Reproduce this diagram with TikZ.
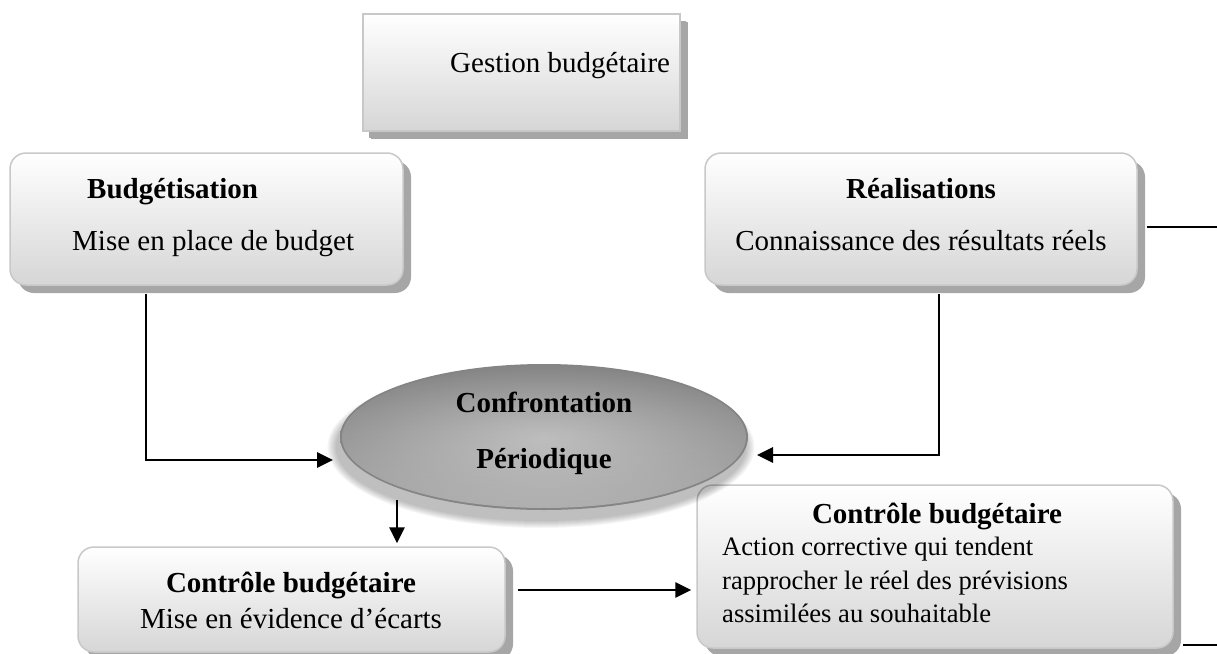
\documentclass[tikz,border=0pt]{standalone}
\usepackage{fontspec}
\setmainfont{Liberation Serif}
\usetikzlibrary{arrows.meta,shapes.geometric,shadows,fadings}

\definecolor{boxline}{HTML}{C8C8C8}
\definecolor{boxshadow}{HTML}{A6A6A6}
\definecolor{boxbottom}{HTML}{D6D6D6}
\definecolor{ovalin}{HTML}{B0B0B0}
\definecolor{ovalout}{HTML}{848484}

\tikzset{
  panel/.style={draw=boxline, line width=1.5pt, top color=white, bottom color=boxbottom,
    inner sep=0pt, drop shadow={shadow xshift=8pt, shadow yshift=-8pt, fill=boxshadow, opacity=1}},
  flatpanel/.style={panel, rounded corners=0pt,
    drop shadow={shadow xshift=6pt, shadow yshift=-7pt, fill=boxshadow, opacity=1}},
  roundpanel/.style={panel, rounded corners=16pt},
  oval/.style={ellipse, inner sep=0pt, inner color=ovalin, outer color=ovalout},
  big/.style={font=\fontsize{29}{34}\selectfont, inner sep=0pt},
  bigb/.style={font=\fontsize{29}{34}\selectfont\bfseries, inner sep=0pt},
  small/.style={font=\fontsize{26.6}{31}\selectfont, inner sep=0pt},
  link/.style={line width=2.8pt, -{Triangle[length=16pt,width=15pt]}},
  stub/.style={line width=1.5pt}
}

\begin{document}
\begin{tikzpicture}[x=1pt,y=-1pt]
\useasboundingbox (0,0) rectangle (1217,653);
\clip (0,0) rectangle (1217,653);

% boxes
\node[flatpanel, minimum width=317pt, minimum height=117pt] (gest) at (521.5,72.5) {};
\node[roundpanel, minimum width=393pt, minimum height=132pt] (bud) at (206.5,219) {};
\node[roundpanel, minimum width=432pt, minimum height=132pt] (real) at (921,219) {};
\node[roundpanel, minimum width=427pt, minimum height=105pt] (ecart) at (291.5,599.5) {};
\node[roundpanel, minimum width=476pt, minimum height=163pt] (corr) at (935,566.5) {};

% soft shadow under the oval
\foreach \k in {1,...,8}{
  \fill[black, opacity=0.035] (541,447) ellipse ({204+\k*1.2pt} and {73+\k*1.0pt});
}
\node[oval, minimum width=408pt, minimum height=146pt] (conf) at (544,437) {};
\fill[white, opacity=0.35, path fading=north] (conf.center) ellipse (202pt and 71pt);

% texts
\node[big, anchor=base west] (tg) at (450,72) {Gestion budgétaire};
\node[bigb, anchor=base west] (tb1) at (87,198) {Budgétisation};
\node[big, anchor=base west] (tb2) at (72,250) {Mise en place de budget};
\node[bigb, anchor=base] (tr1) at (921,198) {Réalisations};
\node[big, anchor=base] (tr2) at (921,250) {Connaissance des résultats réels};
\node[bigb, anchor=base] (tc1) at (544,412) {Confrontation};
\node[bigb, anchor=base] (tc2) at (544,468) {Périodique};
\node[bigb, anchor=base] (te1) at (291,592) {Contrôle budgétaire};
\node[big, anchor=base] (te2) at (291,628) {Mise en évidence d’écarts};
\node[bigb, anchor=base] (tk1) at (937,523) {Contrôle budgétaire};
\node[small, anchor=base west] (tk2) at (722,555) {Action corrective qui tendent};
\node[small, anchor=base west] (tk3) at (722,589) {rapprocher le réel des prévisions};
\node[small, anchor=base west] (tk4) at (722,622) {assimilées au souhaitable};

% connector ends
\coordinate (lstart) at (146,294);
\coordinate (ltip) at (333,460);
\coordinate (rstart) at (939,294);
\coordinate (rtip) at (757,455);
\coordinate (dstart) at (397,500);
\coordinate (bstart) at (518,590);

\draw[link] (lstart) |- (ltip);
\draw[link] (rstart) |- (rtip);
\draw[link, shorten >=3pt] (dstart) -- (dstart |- ecart.north);
\draw[link, shorten >=5pt] (bstart) -- (bstart -| corr.west);

% short rules at the right edge
\coordinate (s1) at (1147,227);
\coordinate (s2) at (1183,645);
\draw[stub] (s1) -- ++(72,0);
\draw[stub] (s2) -- ++(36,0);
\end{tikzpicture}
\end{document}
